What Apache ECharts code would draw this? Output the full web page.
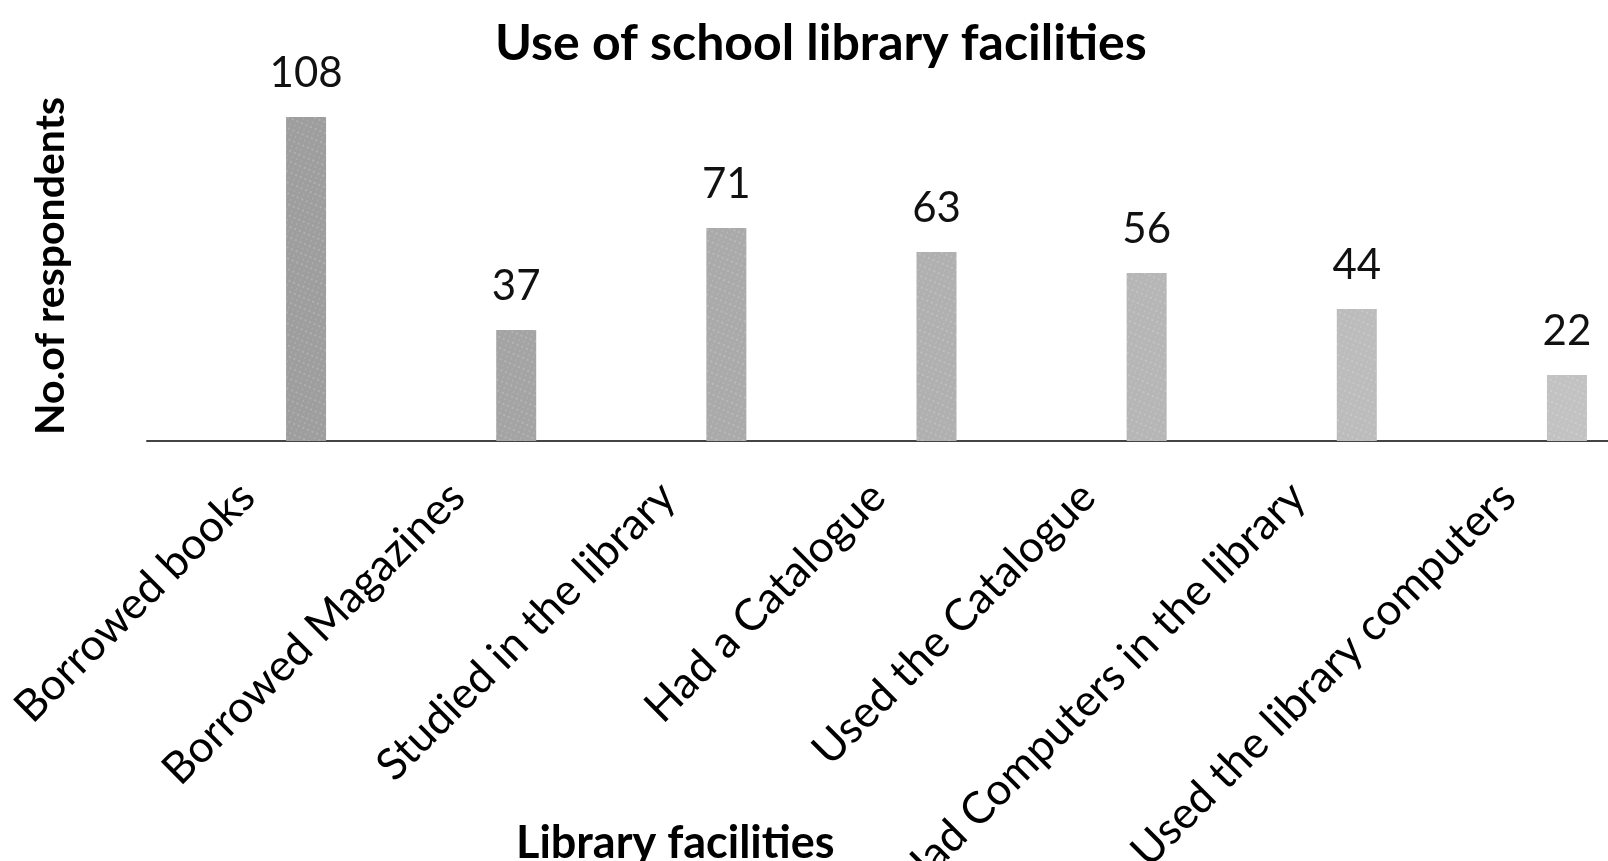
<!DOCTYPE html>
<html>
<head>
<meta charset="utf-8">
<script src="https://cdn.jsdelivr.net/npm/echarts@6/dist/echarts.min.js"></script>
<style>
    html, body { margin: 0; padding: 0; background: #fff; }
    #chart { width: 1608px; height: 861px; }
</style>
</head>
<body>
<div id="chart"></div>
<script>
var facilities = ['Borrowed books', 'Borrowed Magazines', 'Studied in the library', 'Had a Catalogue',
    'Used the Catalogue', 'Had Computers in the library', 'Used the library computers'];
var respondents = [108, 37, 71, 63, 56, 44, 22];

var FONT = 'Lato, "Open Sans", sans-serif';

var chart = echarts.init(document.getElementById('chart'));

// bars get a bit lighter towards the right, as in the scanned original
function barColor(p) {
    var g = Math.round(158 + p.dataIndex * 6);
    return 'rgb(' + g + ',' + g + ',' + g + ')';
}

var option = {
    animation: false,
    backgroundColor: '#fff',
    title: [{
        text: 'Use of school library facilities',
        left: 490,
        top: 14,
        textStyle: {fontFamily: FONT, fontWeight: 'bold', fontSize: 50, color: '#000'}
    }, {
        text: 'Library facilities',
        left: 511,
        top: 816,
        textStyle: {fontFamily: FONT, fontWeight: 'bold', fontSize: 45, color: '#000'}
    }],
    grid: [
        //柱子所在网格，右侧超出画布
        {left: 201, right: -64, top: 81, bottom: 420, outerBoundsMode: 'none'},
        //只画横轴线和纵轴标题
        {left: 147, right: 0, top: 91, bottom: 420, outerBoundsMode: 'none'}
    ],
    xAxis: [{
        type: 'category',
        gridIndex: 0,
        data: facilities,
        axisLine: {show: false},
        axisTick: {show: false},
        axisLabel: {
            interval: 0,
            rotate: 45,
            margin: -10,
            padding: [0, 83, 0, 0],
            fontFamily: FONT,
            fontSize: 44,
            color: '#000'
        }
    }, {
        type: 'value',
        gridIndex: 1,
        min: 0,
        max: 1,
        axisLine: {show: true, lineStyle: {color: '#444', width: 2}},
        axisTick: {show: false},
        axisLabel: {show: false},
        splitLine: {show: false}
    }],
    yAxis: [{
        type: 'value',
        gridIndex: 0,
        min: 0,
        max: 120,
        axisLine: {show: false},
        axisTick: {show: false},
        axisLabel: {show: false},
        splitLine: {show: false}
    }, {
        type: 'value',
        gridIndex: 1,
        min: 0,
        max: 1,
        name: 'No.of respondents',
        nameLocation: 'middle',
        nameRotate: 90,
        nameGap: 76,
        nameTextStyle: {fontFamily: FONT, fontWeight: 'bold', fontSize: 41, color: '#000'},
        axisLine: {show: false},
        axisTick: {show: false},
        axisLabel: {show: false},
        splitLine: {show: false}
    }],
    series: [{
        type: 'bar',
        xAxisIndex: 0,
        yAxisIndex: 0,
        data: respondents,
        barWidth: 40,
        itemStyle: {
            color: barColor,
            decal: {
                symbol: 'rect',
                symbolSize: 0.8,
                color: 'rgba(255,255,255,0.3)',
                dashArrayX: [[2, 3], [1, 4]],
                dashArrayY: [2, 3],
                rotation: 0.4
            }
        },
        label: {
            show: true,
            position: 'top',
            distance: 23,
            fontFamily: FONT,
            fontSize: 42,
            color: '#111'
        }
    }]
};

chart.setOption(option);
</script>
</body>
</html>
